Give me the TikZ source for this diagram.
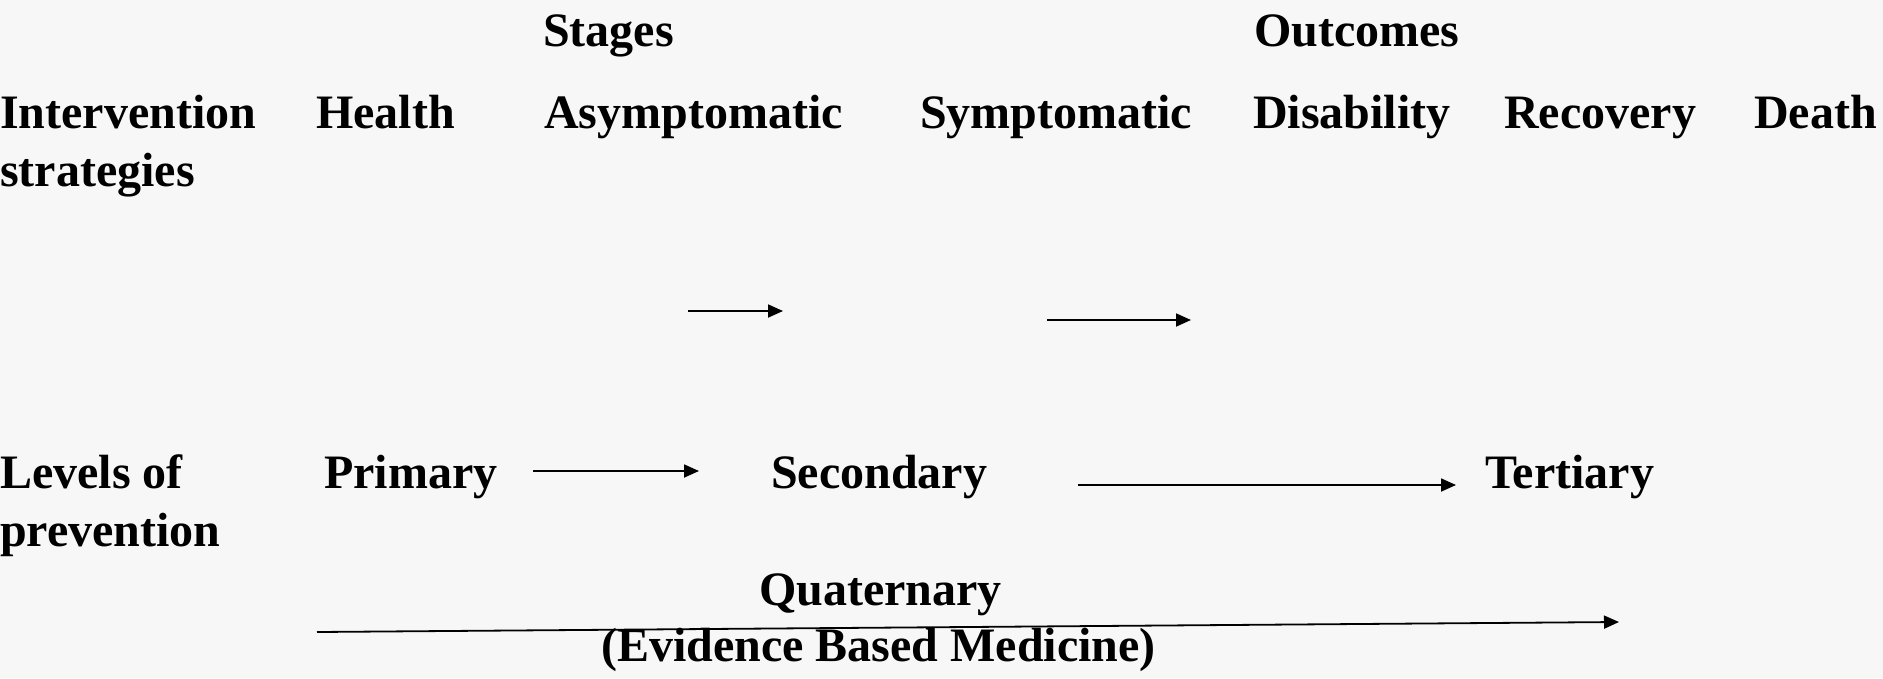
\documentclass[tikz,border=0pt]{standalone}
\usepackage{fontspec}
\setmainfont{Liberation Serif}
\definecolor{SlideBg}{RGB}{247, 247, 247}
\usetikzlibrary{positioning, arrows.meta}

\begin{document}
\begin{tikzpicture}[
  x=1pt, y=-1pt,
  every node/.style={font=\fontsize{48pt}{58pt}\selectfont\bfseries},
  lbl/.style={inner sep=0pt, anchor=base west},
  twoline/.style={inner sep=0pt, anchor=base west, align=left},
  arr/.style={-{Triangle[length=15pt, width=13pt]}, line width=1.8pt, black}
]
\fill[SlideBg] (0,0) rectangle (1883,678);
\useasboundingbox (0,0) rectangle (1883,678);

\node[lbl] (stages) at (543,46) {Stages};
\node[lbl] (outcomes) at (1254,46) {Outcomes};

\node[twoline] (intervention) at (0,186) {Intervention\\strategies};
\node[lbl] (health) at (316,128) {Health};
\node[lbl] (asympt) at (544,128) {Asymptomatic};
\node[lbl] (sympt) at (920,128) {Symptomatic};
\node[lbl] (disab) at (1253,128) {Disability};
\node[lbl] (recov) at (1504,128) {Recovery};
\node[lbl] (death) at (1754,128) {Death};

\coordinate (stageA) at (688,311);
\coordinate (stageB) at (783,311);
\coordinate (stageC) at (1047,320);
\coordinate (stageD) at (1191,320);
\draw[arr] (stageA) -- (stageB);
\draw[arr] (stageC) -- (stageD);

\node[twoline] (levels) at (0,546) {Levels of\\prevention};
\node[lbl] (primary) at (324,488) {Primary};
\node[lbl] (secondary) at (771,488) {Secondary};
\node[lbl] (tertiary) at (1485,488) {Tertiary};

\coordinate (primOut) at (533,471);
\coordinate (secIn) at (699,471);
\coordinate (secOut) at (1078,485);
\coordinate (terIn) at (1456,485);
\draw[arr] (primOut) -- (secIn);
\draw[arr] (secOut) -- (terIn);

\node[lbl] (quaternary) at (759,605) {Quaternary};
\node[lbl] (ebm) at (601,661) {(Evidence Based Medicine)};

\coordinate (quatFrom) at (317,632);
\coordinate (quatTo) at (1619,622);
\draw[arr] (quatFrom) -- (quatTo);
\end{tikzpicture}
\end{document}
